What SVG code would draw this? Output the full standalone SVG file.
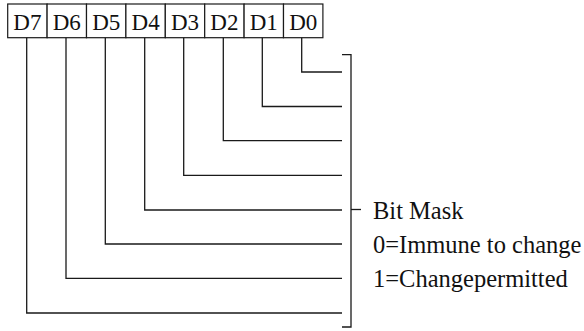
<svg xmlns="http://www.w3.org/2000/svg" width="584" height="331" viewBox="0 0 584 331">
<style>
.ln{fill:none;stroke:#1a1a1a;stroke-width:1.3}
.bx{fill:#fff;stroke:#1a1a1a;stroke-width:1.2}
.lb{font-size:23px;fill:#111;text-anchor:middle}
.tx{font-size:24.5px;fill:#111}
</style>
<rect width="584" height="331" fill="#fff"/>
<g id="register" font-family="'Liberation Serif', 'DejaVu Serif', serif">
<g id="D7"><rect class="bx" x="7.7" y="4" width="39.4" height="33.7"/><text class="lb" x="27.4" y="29.8">D7</text></g>
<g id="D6"><rect class="bx" x="47.1" y="4" width="39.4" height="33.7"/><text class="lb" x="66.8" y="29.8">D6</text></g>
<g id="D5"><rect class="bx" x="86.5" y="4" width="39.4" height="33.7"/><text class="lb" x="106.2" y="29.8">D5</text></g>
<g id="D4"><rect class="bx" x="125.9" y="4" width="39.4" height="33.7"/><text class="lb" x="145.6" y="29.8">D4</text></g>
<g id="D3"><rect class="bx" x="165.3" y="4" width="39.4" height="33.7"/><text class="lb" x="185" y="29.8">D3</text></g>
<g id="D2"><rect class="bx" x="204.7" y="4" width="39.4" height="33.7"/><text class="lb" x="224.4" y="29.8">D2</text></g>
<g id="D1"><rect class="bx" x="244.1" y="4" width="39.4" height="33.7"/><text class="lb" x="263.8" y="29.8">D1</text></g>
<g id="D0"><rect class="bx" x="283.5" y="4" width="39.4" height="33.7"/><text class="lb" x="303.2" y="29.8">D0</text></g>
</g>
<g id="connectors">
<polyline class="ln" points="301.7,37.7 301.7,72 342,72"/>
<polyline class="ln" points="262.3,37.7 262.3,106.5 342,106.5"/>
<polyline class="ln" points="223.3,37.7 223.3,140.7 342,140.7"/>
<polyline class="ln" points="183.7,37.7 183.7,175.3 342,175.3"/>
<polyline class="ln" points="144.7,37.7 144.7,210 342,210"/>
<polyline class="ln" points="105.3,37.7 105.3,244 342,244"/>
<polyline class="ln" points="66,37.7 66,278.3 342,278.3"/>
<polyline class="ln" points="26.7,37.7 26.7,313 342,313"/>
</g>
<g id="bracket">
<polyline class="ln" points="342,54.7 351,54.7 351,327 342,327"/>
<line class="ln" x1="351" y1="209.5" x2="361" y2="209.5"/>
</g>
<g id="legend" font-family="'Liberation Serif', 'DejaVu Serif', serif">
<text class="tx" x="373" y="218.5">Bit Mask</text>
<text class="tx" x="373" y="252.5">0=Immune to change</text>
<text class="tx" x="373" y="286.5">1=Changepermitted</text>
</g>
</svg>
